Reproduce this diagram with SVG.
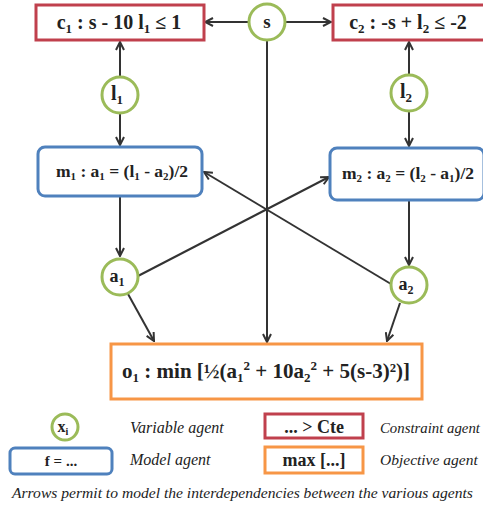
<svg xmlns="http://www.w3.org/2000/svg" width="483" height="508" viewBox="0 0 483 508">
<defs>
<marker id="ah" viewBox="0 0 10 10" refX="9" refY="5" markerWidth="10" markerHeight="10" markerUnits="userSpaceOnUse" orient="auto">
<path d="M1,1 L9,5 L1,9" fill="none" stroke="#333" stroke-width="2"/>
</marker>
<style>
.var{fill:#fff;stroke:#9BBB59;stroke-width:3}
.con{fill:#fff;stroke:#C0404D;stroke-width:3}
.mod{fill:#fff;stroke:#4F81BD;stroke-width:3}
.obj{fill:#fff;stroke:#F79646;stroke-width:3}
.lbl{font-family:"Liberation Serif",serif;font-weight:bold;fill:#222}
.leg{font-family:"Liberation Serif",serif;font-style:italic;fill:#222;font-size:16px}
.conn line{stroke:#333;stroke-width:2;marker-end:url(#ah)}
</style>
</defs>
<rect width="483" height="508" fill="#fff"/>
<g class="conn">
<line x1="249" y1="22" x2="205" y2="22"/>
<line x1="285" y1="22" x2="331" y2="22"/>
<line x1="120" y1="76" x2="120" y2="42"/>
<line x1="409" y1="74" x2="409" y2="42"/>
<line x1="120" y1="114" x2="120" y2="145"/>
<line x1="409" y1="112" x2="409" y2="146"/>
<line x1="120" y1="197" x2="120" y2="256"/>
<line x1="409" y1="201" x2="409" y2="265"/>
<line x1="267" y1="40" x2="267" y2="342"/>
<line x1="138" y1="276" x2="329" y2="177"/>
<line x1="391" y1="284" x2="204" y2="172"/>
<line x1="128" y1="294" x2="154" y2="341"/>
<line x1="400" y1="303" x2="387" y2="341"/>
</g>
<g id="c1"><rect class="con" x="36" y="5" width="168" height="35"/>
<text class="lbl" x="119" y="29" font-size="20" text-anchor="middle">c<tspan font-size="13" dy="4">1</tspan><tspan dy="-4"> : s - 10 l</tspan><tspan font-size="13" dy="4">1</tspan><tspan dy="-4"> ≤ 1</tspan></text></g>
<g id="c2"><rect class="con" x="333" y="5" width="152" height="35"/>
<text class="lbl" x="408" y="29" font-size="20" text-anchor="middle">c<tspan font-size="13" dy="4">2</tspan><tspan dy="-4"> : -s + l</tspan><tspan font-size="13" dy="4">2</tspan><tspan dy="-4"> ≤ -2</tspan></text></g>
<g id="s"><circle class="var" cx="267" cy="22" r="18"/>
<text class="lbl" x="267" y="28" font-size="19" text-anchor="middle">s</text></g>
<g id="l1"><circle class="var" cx="120" cy="95" r="18"/>
<text class="lbl" x="117" y="100" font-size="20" text-anchor="middle">l<tspan font-size="13" dy="4">1</tspan></text></g>
<g id="l2"><circle class="var" cx="409" cy="93" r="18"/>
<text class="lbl" x="406" y="98" font-size="20" text-anchor="middle">l<tspan font-size="13" dy="4">2</tspan></text></g>
<g id="m1"><rect class="mod" x="38" y="147" width="164" height="49" rx="7"/>
<text class="lbl" x="122" y="177" font-size="17.5" text-anchor="middle">m<tspan font-size="11" dy="3">1</tspan><tspan dy="-3"> : a</tspan><tspan font-size="11" dy="3">1</tspan><tspan dy="-3"> = (l</tspan><tspan font-size="11" dy="3">1</tspan><tspan dy="-3"> - a</tspan><tspan font-size="11" dy="3">2</tspan><tspan dy="-3">)/2</tspan></text></g>
<g id="m2"><rect class="mod" x="330" y="148" width="154" height="52" rx="7"/>
<text class="lbl" x="408" y="179" font-size="17.5" text-anchor="middle">m<tspan font-size="11" dy="3">2</tspan><tspan dy="-3"> : a</tspan><tspan font-size="11" dy="3">2</tspan><tspan dy="-3"> = (l</tspan><tspan font-size="11" dy="3">2</tspan><tspan dy="-3"> - a</tspan><tspan font-size="11" dy="3">1</tspan><tspan dy="-3">)/2</tspan></text></g>
<g id="a1"><circle class="var" cx="120" cy="277" r="18"/>
<text class="lbl" x="117" y="282" font-size="18" text-anchor="middle">a<tspan font-size="12" dy="4">1</tspan></text></g>
<g id="a2"><circle class="var" cx="409" cy="285" r="18"/>
<text class="lbl" x="406" y="290" font-size="18" text-anchor="middle">a<tspan font-size="12" dy="4">2</tspan></text></g>
<g id="o1"><rect class="obj" x="111" y="344" width="311" height="55"/>
<text class="lbl" x="266" y="378" font-size="21" text-anchor="middle">o<tspan font-size="13" dy="4">1</tspan><tspan dy="-4"> : min [½(a</tspan><tspan font-size="13" dy="4">1</tspan><tspan font-size="13" dy="-12">2</tspan><tspan dy="8"> + 10a</tspan><tspan font-size="13" dy="4">2</tspan><tspan font-size="13" dy="-12">2</tspan><tspan dy="8"> + 5(s-3)²)]</tspan></text></g>
<g id="legend">
<circle class="var" cx="65" cy="427" r="13"/>
<text class="lbl" x="63" y="432" font-size="16" text-anchor="middle">x<tspan font-size="10" dy="3">i</tspan></text>
<text class="leg" x="130" y="433">Variable agent</text>
<rect class="con" x="265" y="414" width="98" height="24"/>
<text class="lbl" x="314" y="433" font-size="18" text-anchor="middle">... &gt; Cte</text>
<text class="leg" x="380" y="433" style="font-size:14.8px">Constraint agent</text>
<rect class="mod" x="10" y="448" width="102" height="26" rx="5"/>
<text class="lbl" x="61" y="466" font-size="15" text-anchor="middle">f = ...</text>
<text class="leg" x="130" y="465">Model agent</text>
<rect class="obj" x="265" y="447" width="98" height="26"/>
<text class="lbl" x="314" y="466" font-size="18" text-anchor="middle">max [...]</text>
<text class="leg" x="380" y="465" style="font-size:15.5px">Objective agent</text>
<text class="leg" x="12" y="498" style="font-size:15.6px">Arrows permit to model the interdependencies between the various agents</text>
</g>
</svg>
